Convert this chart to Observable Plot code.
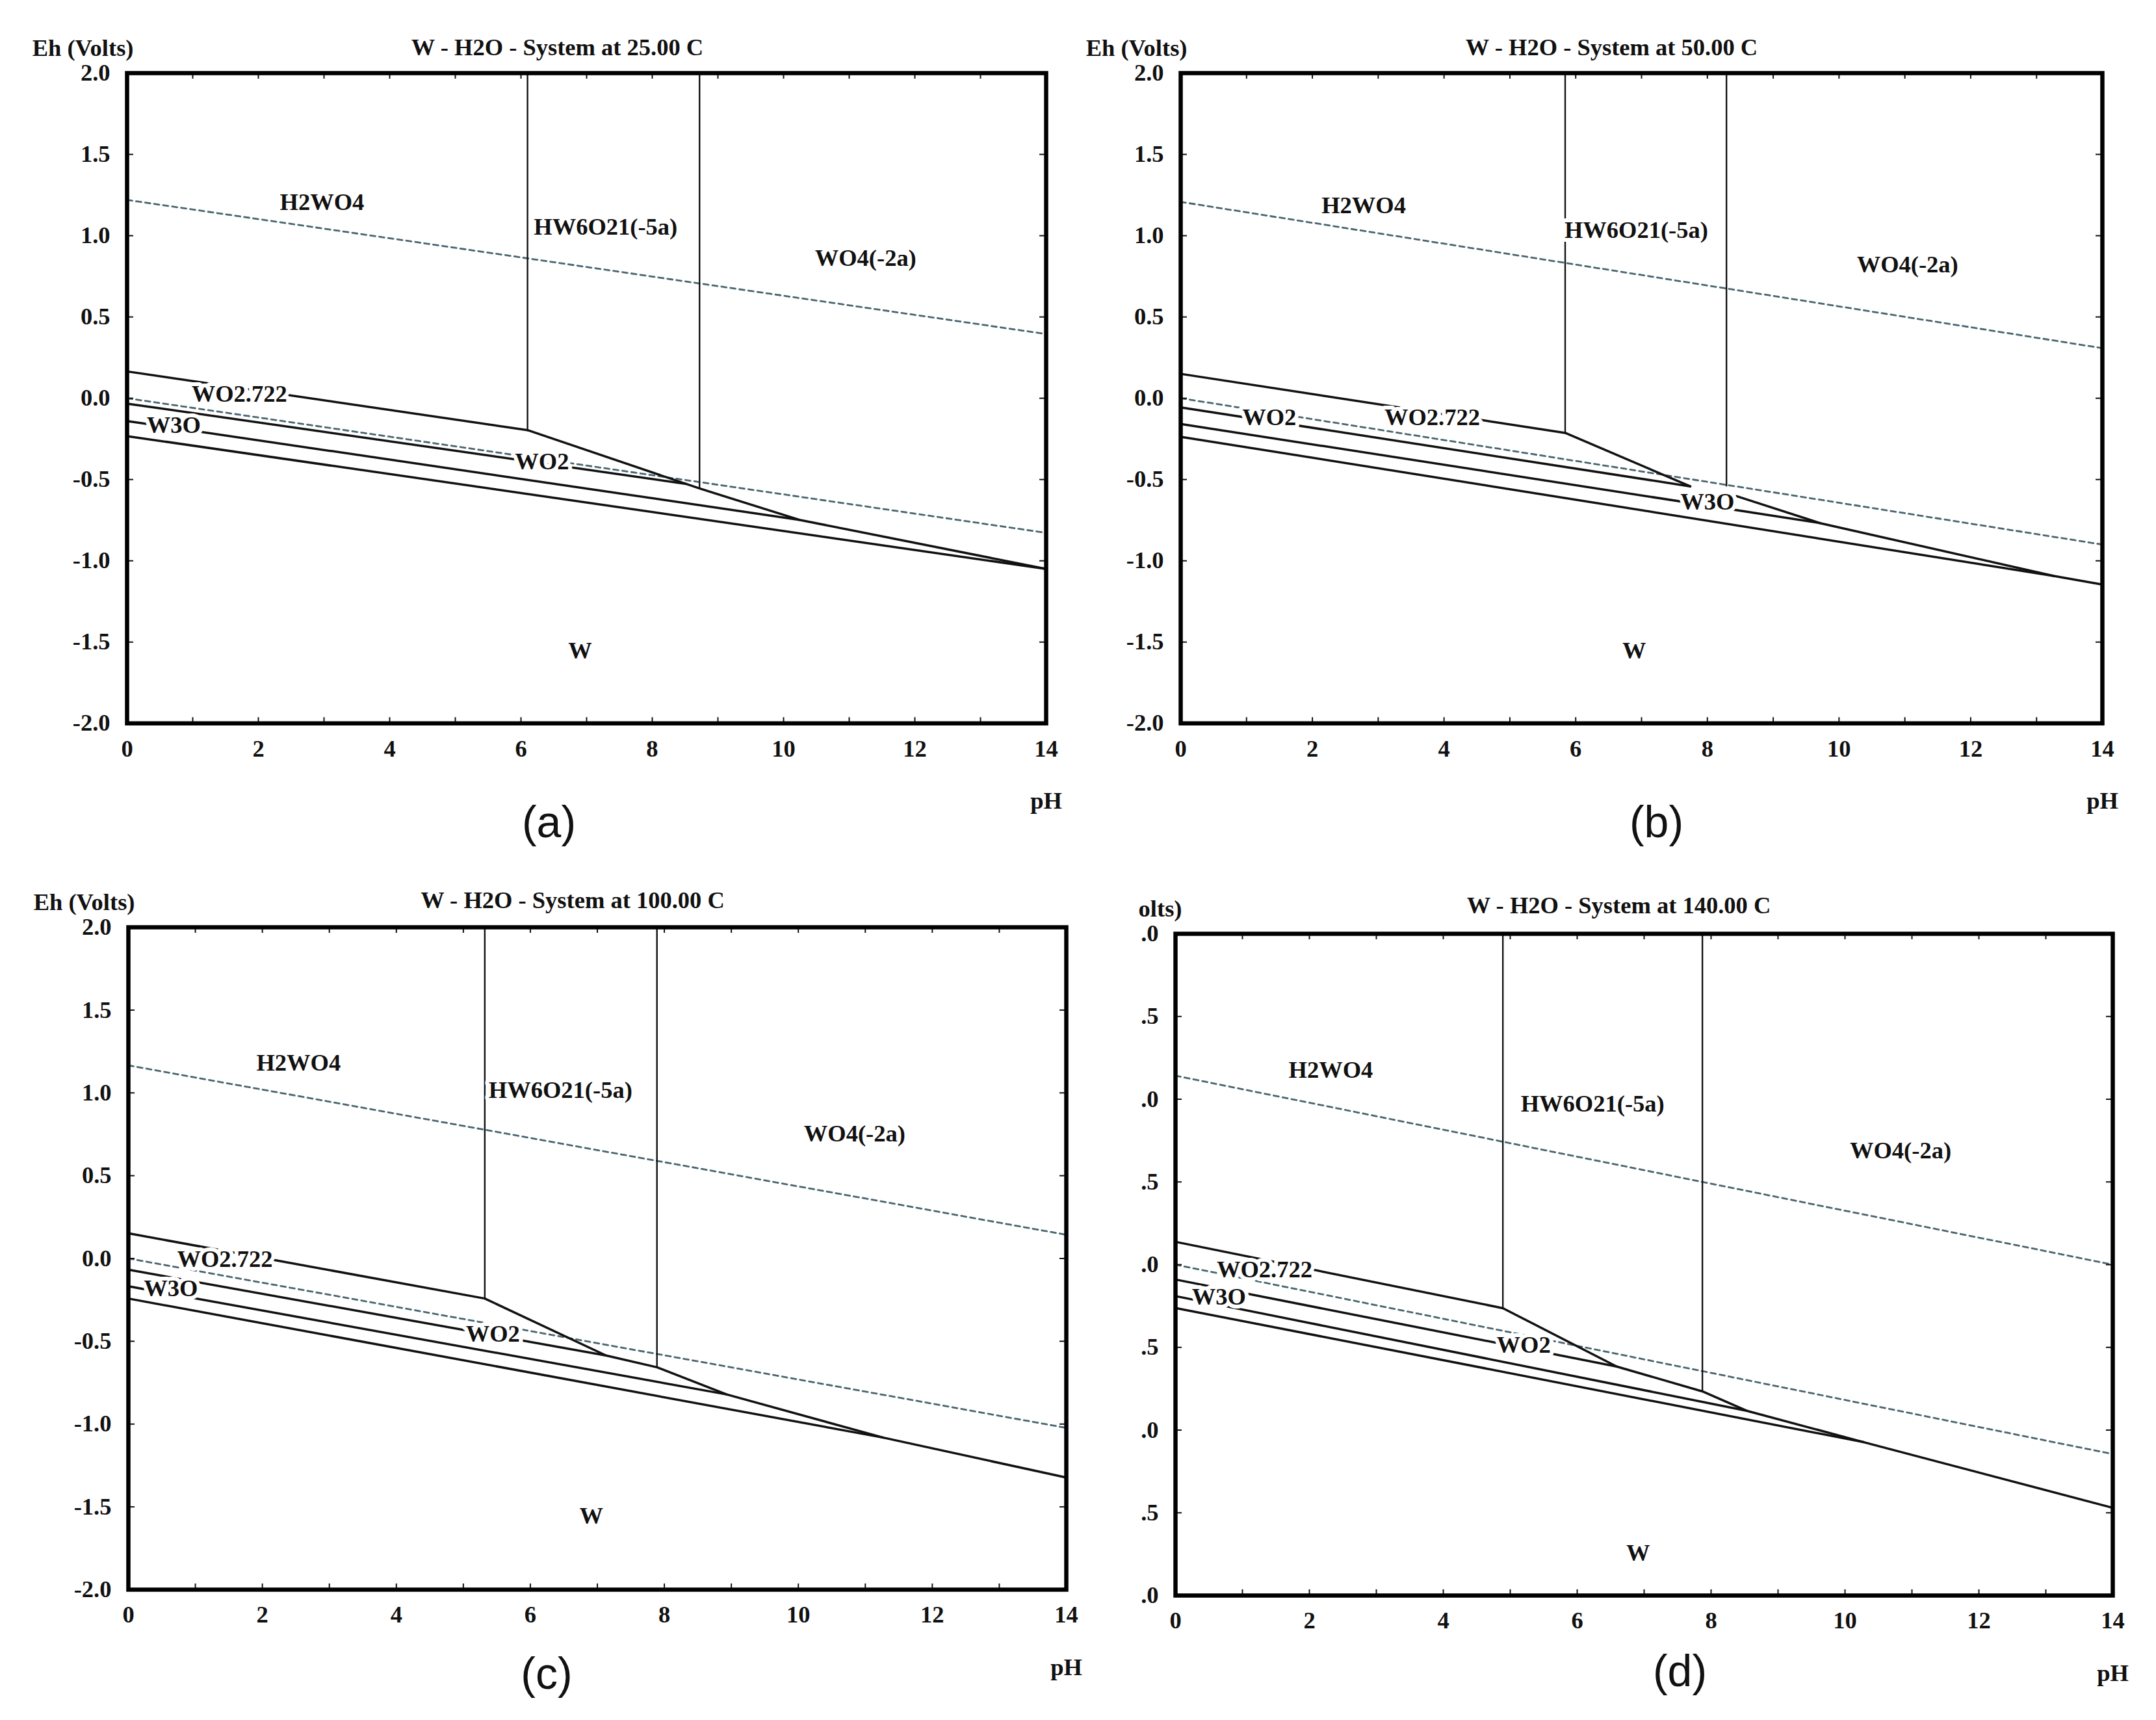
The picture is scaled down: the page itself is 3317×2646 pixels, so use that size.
<!DOCTYPE html>
<html>
<head>
<meta charset="utf-8">
<script src="https://cdn.jsdelivr.net/npm/d3@7"></script>
<script src="https://cdn.jsdelivr.net/npm/@observablehq/plot@0.6"></script>
<style>
  html, body { margin: 0; padding: 0; background: #fff; }
  #page { position: relative; width: 3317px; height: 2646px; overflow: hidden; background: #fff; }
  .panel { position: absolute; }
  .panel svg { position: absolute; top: 0; left: 0; }
</style>
</head>
<body>
<div id="page"></div>
<script>
// ---------------- data ----------------
const temperatures = ["25.00", "50.00", "100.00", "140.00"];
const panelLetters = ["(a)", "(b)", "(c)", "(d)"];
// panel (d) is cropped on its left in the reference: only the ends of its y texts show
const yAxisTitles = ["Eh (Volts)", "Eh (Volts)", "Eh (Volts)", "olts)"];
const yTickCharsShown = [null, null, null, 2];
const pHTickLabels = [0, 2, 4, 6, 8, 10, 12, 14];
const pHMinorTicks = [1, 2, 3, 4, 5, 6, 7, 8, 9, 10, 11, 12, 13];
const EhTickLabels = [2.0, 1.5, 1.0, 0.5, 0.0, -0.5, -1.0, -1.5, -2.0];
const EhMinorTicks = [1.5, 1.0, 0.5, 0.0, -0.5, -1.0, -1.5];
const regionNames = ["H2WO4", "HW6O21(-5a)", "WO4(-2a)", "W", "WO2.722", "W3O", "WO2"];

// water stability lines: Eh at pH 0 and pH 14
const upperWater = [[1.22, 0.395], [1.208, 0.308], [1.166, 0.143], [1.142, 0.0]];
const lowerWater = [[0.0, -0.828], [0.0, -0.90], [0.0, -1.023], [0.0, -1.145]];

// vertical boundaries (pH) and the Eh where they end at the bottom
const verticalPH = [[6.10, 8.72], [5.84, 8.29], [5.32, 7.89], [4.89, 7.87]];
const verticalFoot = [[-0.196, -0.555], [-0.213, -0.538], [-0.242, -0.657], [-0.263, -0.766]];

// solid boundaries, [pH, Eh] polylines
const boundaries25 = [
  [[0, 0.165], [6.10, -0.196]],
  [[6.10, -0.196], [8.72, -0.555], [10.24, -0.748], [14, -1.05]],
  [[0, -0.033], [8.52, -0.527]],
  [[0, -0.14], [10.24, -0.748]],
  [[0, -0.233], [14, -1.05]]
];
const boundaries50 = [
  [[0, 0.15], [5.84, -0.213]],
  [[5.84, -0.213], [7.74, -0.542]],
  [[0, -0.056], [7.74, -0.542]],
  [[8.44, -0.602], [9.71, -0.768], [13.26, -1.093], [14, -1.146]],
  [[0, -0.158], [9.71, -0.768]],
  [[0, -0.237], [13.26, -1.093]]
];
const boundaries100 = [
  [[0, 0.152], [5.32, -0.242]],
  [[5.32, -0.242], [7.13, -0.586], [7.89, -0.657], [8.93, -0.821], [11.27, -1.082], [14, -1.323]],
  [[0, -0.068], [7.13, -0.586]],
  [[0, -0.168], [8.93, -0.821]],
  [[0, -0.242], [11.27, -1.082]]
];
const boundaries140 = [
  [[0, 0.138], [4.89, -0.263]],
  [[4.89, -0.263], [6.59, -0.616], [7.87, -0.766], [8.53, -0.883], [10.28, -1.073], [14, -1.47]],
  [[0, -0.09], [6.59, -0.616]],
  [[0, -0.19], [8.53, -0.883]],
  [[0, -0.262], [10.28, -1.073]]
];

// label positions [pH, Eh], in the order of regionNames
const labelPos25 = [[2.97, 1.204], [7.29, 1.055], [11.25, 0.861], [6.90, -1.555], [1.71, 0.025], [0.71, -0.167], [6.32, -0.392]];
const labelPos50 = [[2.78, 1.183], [6.92, 1.034], [11.04, 0.82], [6.89, -1.555], [3.82, -0.118], [8.0, -0.639], [1.345, -0.118]];
const labelPos100 = [[2.54, 1.182], [6.45, 1.017], [10.84, 0.751], [6.91, -1.557], [1.44, -0.005], [0.635, -0.181], [5.44, -0.455]];
const labelPos140 = [[2.32, 1.175], [6.23, 0.97], [10.83, 0.688], [6.91, -1.742], [1.33, -0.032], [0.65, -0.194], [5.20, -0.485]];

const allBoundaries = [boundaries25, boundaries50, boundaries100, boundaries140];
const allLabels = [labelPos25, labelPos50, labelPos100, labelPos140];

// ---------------- layout (page pixels) ----------------
const frames = [
  {x0: 195, y0: 111.7, x1: 1609, y1: 1112, titleDx: -45, titleDy: -39, letterDx: -58, letterDy: 153},
  {x0: 1816, y0: 111.7, x1: 3234, y1: 1112, titleDx: -46, titleDy: -39, letterDx: 23, letterDy: 153},
  {x0: 197, y0: 1425.5, x1: 1640, y1: 2444.5, titleDx: -38, titleDy: -41, letterDx: -78, letterDy: 131},
  {x0: 1808, y0: 1436, x1: 3250, y1: 2454, titleDx: -39, titleDy: -43, letterDx: 55, letterDy: 118}
];
const mL = 200, mR = 80, mT = 100, mB = 200;
const serif = "'Liberation Serif', 'Times New Roman', 'DejaVu Serif', serif";
const sans = "'Liberation Sans', Arial, 'DejaVu Sans', sans-serif";
const dashColor = "#4a6670";
const ink = "#111";

const page = document.getElementById("page");

function drawPanel(i) {
  const f = frames[i];
  const fw = f.x1 - f.x0, fh = f.y1 - f.y0;
  const width = fw + mL + mR, height = fh + mT + mB;

  const water = [];
  water.push({id: "O2", pH: 0, Eh: upperWater[i][0]}, {id: "O2", pH: 14, Eh: upperWater[i][1]});
  water.push({id: "H2", pH: 0, Eh: lowerWater[i][0]}, {id: "H2", pH: 14, Eh: lowerWater[i][1]});

  const verticals = [];
  verticalPH[i].forEach((p, k) => {
    verticals.push({id: k, pH: p, Eh: 2.0}, {id: k, pH: p, Eh: verticalFoot[i][k]});
  });

  const bounds = [];
  allBoundaries[i].forEach((poly, k) => poly.forEach(([p, e]) => bounds.push({id: k, pH: p, Eh: e})));

  const labels = regionNames.map((name, k) => ({name, pH: allLabels[i][k][0], Eh: allLabels[i][k][1]}));

  const shown = yTickCharsShown[i];
  const yFormat = d => {
    const s = d.toFixed(1);
    return shown ? s.slice(-shown) : s;
  };

  const chart = Plot.plot({
    width, height,
    marginLeft: mL, marginRight: mR, marginTop: mT, marginBottom: mB,
    x: {domain: [0, 14]},
    y: {domain: [-2, 2]},
    style: {
      fontFamily: serif, fontSize: "36.5px", fontWeight: "bold",
      background: "transparent", overflow: "visible", maxWidth: "none", color: "black"
    },
    marks: [
      Plot.line(water, {x: "pH", y: "Eh", z: "id", stroke: dashColor, strokeWidth: 2.8, strokeDasharray: "8,6"}),
      Plot.line(verticals, {x: "pH", y: "Eh", z: "id", stroke: ink, strokeWidth: 2.4}),
      Plot.line(bounds, {x: "pH", y: "Eh", z: "id", stroke: ink, strokeWidth: 3.5}),
      Plot.text(labels, {x: "pH", y: "Eh", text: "name", fill: "white", stroke: "white", strokeWidth: 12, strokeLinejoin: "round", lineAnchor: "middle"}),
      Plot.text(labels, {x: "pH", y: "Eh", text: "name", fill: ink, lineAnchor: "middle"}),
      Plot.ruleX(pHMinorTicks, {x: d => d, insetTop: fh - 9, stroke: ink, strokeWidth: 2}),
      Plot.ruleX(pHMinorTicks, {x: d => d, insetBottom: fh - 9, stroke: ink, strokeWidth: 2}),
      Plot.ruleY(EhMinorTicks, {y: d => d, insetRight: fw - 10, stroke: ink, strokeWidth: 2}),
      Plot.ruleY(EhMinorTicks, {y: d => d, insetLeft: fw - 10, stroke: ink, strokeWidth: 2}),
      Plot.frame({stroke: "#000", strokeWidth: 6.5}),
      Plot.axisX(pHTickLabels, {anchor: "bottom", tickSize: 0, tickPadding: 25, label: null, tickFormat: d => String(d), fill: ink}),
      Plot.axisY(EhTickLabels, {anchor: "left", tickSize: 0, tickPadding: 26, label: null, tickFormat: yFormat, fill: ink}),
      Plot.text([`W - H2O - System at ${temperatures[i]} C`], {text: d => d, frameAnchor: "top", dx: f.titleDx, dy: f.titleDy, lineAnchor: "middle", textAnchor: "middle", fill: ink}),
      Plot.text([yAxisTitles[i]], {text: d => d, frameAnchor: "top-left", dx: 10, dy: -38, textAnchor: "end", lineAnchor: "middle", fill: ink}),
      Plot.text(["pH"], {text: d => d, frameAnchor: "bottom-right", dy: 120, textAnchor: "middle", lineAnchor: "middle", fill: ink}),
      Plot.text([panelLetters[i]], {text: d => d, frameAnchor: "bottom", dx: f.letterDx, dy: f.letterDy, textAnchor: "middle", lineAnchor: "middle",
        fontFamily: sans, fontWeight: "normal", fontSize: 68, fill: ink})
    ]
  });

  const div = document.createElement("div");
  div.className = "panel";
  div.style.left = (f.x0 - mL) + "px";
  div.style.top = (f.y0 - mT) + "px";
  div.style.width = width + "px";
  div.style.height = height + "px";
  div.appendChild(chart);
  page.appendChild(div);
}

[0, 1, 2, 3].forEach(drawPanel);
</script>
</body>
</html>
